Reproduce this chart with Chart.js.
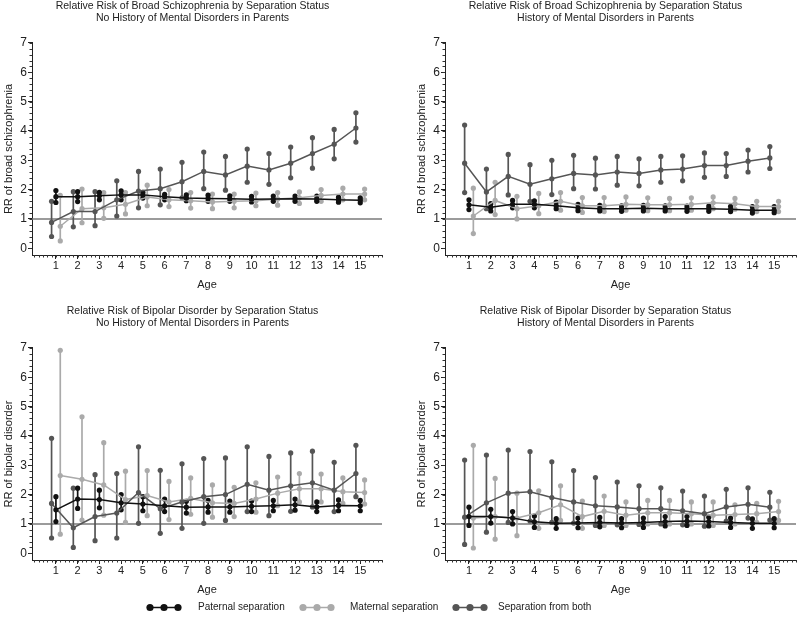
<!DOCTYPE html>
<html>
<head>
<meta charset="utf-8">
<script src="https://cdn.jsdelivr.net/npm/chart.js@4.4.1/dist/chart.umd.min.js"></script>
<style>
    body { margin: 0; background: #fff; width: 800px; height: 624px; position: relative; overflow: hidden;
           font-family: "Liberation Sans", Arial, sans-serif; }
    canvas { position: absolute; }
    .mk { position: absolute; top: 603px; }
    .lt { position: absolute; top: 601px; font-size: 10px; line-height: 12px; color: #222; white-space: nowrap; }
</style>
</head>
<body>
<canvas id="p1" width="386" height="300" style="left:0;top:0"></canvas>
<canvas id="p2" width="387" height="300" style="left:413px;top:0"></canvas>
<canvas id="p3" width="386" height="300" style="left:0;top:305px"></canvas>
<canvas id="p4" width="387" height="300" style="left:413px;top:305px"></canvas>

<svg class="mk" style="left:146px" width="36" height="9"><line x1="4" y1="4.5" x2="32" y2="4.5" stroke="#111" stroke-width="1.5"/><circle cx="4" cy="4.5" r="3.6" fill="#111"/><circle cx="18" cy="4.5" r="3.6" fill="#111"/><circle cx="32" cy="4.5" r="3.6" fill="#111"/></svg>
<div class="lt" style="left:198px">Paternal separation</div>
<svg class="mk" style="left:299px" width="36" height="9"><line x1="4" y1="4.5" x2="32" y2="4.5" stroke="#aaa" stroke-width="1.5"/><circle cx="4" cy="4.5" r="3.6" fill="#aaa"/><circle cx="18" cy="4.5" r="3.6" fill="#aaa"/><circle cx="32" cy="4.5" r="3.6" fill="#aaa"/></svg>
<div class="lt" style="left:350px">Maternal separation</div>
<svg class="mk" style="left:452px" width="36" height="9"><line x1="4" y1="4.5" x2="32" y2="4.5" stroke="#555" stroke-width="1.5"/><circle cx="4" cy="4.5" r="3.6" fill="#555"/><circle cx="18" cy="4.5" r="3.6" fill="#555"/><circle cx="32" cy="4.5" r="3.6" fill="#555"/></svg>
<div class="lt" style="left:498px">Separation from both</div>

<script>
// 축 눈금
const ages = [1, 2, 3, 4, 5, 6, 7, 8, 9, 10, 11, 12, 13, 14, 15];
const yTicks = [0, 1, 2, 3, 4, 5, 6, 7];

// 조현병, 부모 정신질환 이력 없음
const patScz0   = [1.76, 1.76, 1.79, 1.82, 1.82, 1.76, 1.71, 1.70, 1.69, 1.67, 1.68, 1.69, 1.68, 1.65, 1.64];
const patScz0Lo = [1.56, 1.59, 1.65, 1.65, 1.71, 1.65, 1.62, 1.60, 1.60, 1.58, 1.60, 1.60, 1.60, 1.57, 1.55];
const patScz0Hi = [1.97, 1.93, 1.91, 1.96, 1.91, 1.84, 1.82, 1.81, 1.79, 1.77, 1.78, 1.78, 1.78, 1.74, 1.72];
const matScz0   = [0.75, 1.35, 1.38, 1.50, 1.75, 1.65, 1.62, 1.58, 1.60, 1.62, 1.68, 1.72, 1.80, 1.85, 1.85];
const matScz0Lo = [0.25, 0.87, 1.02, 1.17, 1.45, 1.42, 1.37, 1.35, 1.38, 1.45, 1.47, 1.53, 1.60, 1.65, 1.65];
const matScz0Hi = [1.80, 2.02, 1.90, 1.90, 2.15, 2.00, 1.90, 1.85, 1.85, 1.88, 1.90, 1.92, 2.00, 2.05, 2.02];
const bothScz0   = [0.88, 1.25, 1.25, 1.65, 1.95, 2.03, 2.27, 2.62, 2.50, 2.80, 2.67, 2.90, 3.23, 3.55, 4.10];
const bothScz0Lo = [0.40, 0.73, 0.77, 1.10, 1.38, 1.48, 1.72, 2.03, 1.98, 2.25, 2.18, 2.40, 2.73, 3.05, 3.62];
const bothScz0Hi = [1.60, 1.93, 1.93, 2.30, 2.62, 2.70, 2.93, 3.28, 3.13, 3.38, 3.23, 3.45, 3.77, 4.05, 4.62];

// 조현병, 부모 정신질환 이력 있음
const patScz1   = [1.48, 1.40, 1.50, 1.50, 1.45, 1.38, 1.35, 1.35, 1.36, 1.35, 1.35, 1.35, 1.33, 1.30, 1.30];
const patScz1Lo = [1.32, 1.27, 1.38, 1.38, 1.35, 1.28, 1.27, 1.26, 1.27, 1.27, 1.26, 1.26, 1.25, 1.20, 1.21];
const patScz1Hi = [1.65, 1.52, 1.63, 1.62, 1.57, 1.50, 1.46, 1.45, 1.46, 1.45, 1.44, 1.44, 1.43, 1.42, 1.42];
const matScz1   = [1.10, 1.63, 1.35, 1.45, 1.60, 1.45, 1.45, 1.50, 1.48, 1.48, 1.50, 1.55, 1.52, 1.42, 1.42];
const matScz1Lo = [0.50, 1.15, 1.00, 1.18, 1.30, 1.22, 1.25, 1.30, 1.28, 1.28, 1.30, 1.35, 1.33, 1.25, 1.25];
const matScz1Hi = [2.05, 2.25, 1.77, 1.87, 1.90, 1.73, 1.73, 1.75, 1.72, 1.70, 1.72, 1.75, 1.70, 1.60, 1.60];
const bothScz1   = [2.90, 1.92, 2.45, 2.18, 2.37, 2.55, 2.50, 2.60, 2.55, 2.67, 2.70, 2.82, 2.82, 2.97, 3.08];
const bothScz1Lo = [1.90, 1.35, 1.82, 1.60, 1.83, 2.03, 2.02, 2.15, 2.13, 2.25, 2.30, 2.42, 2.45, 2.60, 2.72];
const bothScz1Hi = [4.20, 2.70, 3.20, 2.85, 3.00, 3.17, 3.07, 3.13, 3.05, 3.13, 3.15, 3.25, 3.23, 3.35, 3.47];

// 양극성 장애, 부모 정신질환 이력 없음
const patBip0   = [1.48, 1.85, 1.83, 1.72, 1.68, 1.62, 1.57, 1.58, 1.58, 1.60, 1.62, 1.65, 1.58, 1.63, 1.62];
const patBip0Lo = [1.08, 1.53, 1.55, 1.48, 1.45, 1.42, 1.37, 1.40, 1.40, 1.42, 1.45, 1.47, 1.42, 1.45, 1.45];
const patBip0Hi = [1.93, 2.22, 2.15, 2.00, 1.93, 1.85, 1.77, 1.80, 1.78, 1.78, 1.80, 1.85, 1.75, 1.82, 1.80];
const matBip0   = [2.65, 2.52, 2.33, 1.83, 1.97, 1.75, 1.87, 1.72, 1.70, 1.85, 2.05, 2.20, 2.20, 2.10, 2.07];
const matBip0Lo = [0.65, 1.13, 1.30, 1.05, 1.28, 1.15, 1.33, 1.23, 1.25, 1.40, 1.62, 1.75, 1.75, 1.70, 1.68];
const matBip0Hi = [6.92, 4.65, 3.77, 2.80, 2.82, 2.45, 2.57, 2.33, 2.25, 2.40, 2.60, 2.72, 2.70, 2.57, 2.50];
const bothBip0   = [1.70, 0.87, 1.25, 1.37, 2.07, 1.52, 1.75, 1.93, 2.00, 2.35, 2.15, 2.30, 2.40, 2.15, 2.72];
const bothBip0Lo = [0.52, 0.20, 0.43, 0.52, 1.02, 0.68, 0.85, 1.02, 1.12, 1.42, 1.28, 1.43, 1.58, 1.42, 1.93];
const bothBip0Hi = [3.92, 2.22, 2.68, 2.72, 3.63, 2.83, 3.05, 3.23, 3.25, 3.63, 3.30, 3.42, 3.48, 3.10, 3.68];

// 양극성 장애, 부모 정신질환 이력 있음
const patBip1   = [1.25, 1.25, 1.20, 1.07, 1.02, 1.03, 1.05, 1.03, 1.05, 1.08, 1.10, 1.08, 1.05, 1.02, 1.02];
const patBip1Lo = [0.95, 1.03, 1.00, 0.88, 0.85, 0.87, 0.90, 0.87, 0.88, 0.93, 0.95, 0.93, 0.88, 0.85, 0.87];
const patBip1Hi = [1.57, 1.50, 1.42, 1.27, 1.18, 1.20, 1.22, 1.18, 1.20, 1.25, 1.25, 1.23, 1.20, 1.17, 1.18];
const matBip1   = [1.20, 1.25, 1.20, 1.38, 1.65, 1.25, 1.43, 1.30, 1.38, 1.38, 1.35, 1.30, 1.32, 1.35, 1.42];
const matBip1Lo = [0.18, 0.48, 0.60, 0.85, 1.12, 0.85, 0.95, 0.95, 1.00, 1.00, 1.00, 0.95, 1.00, 1.05, 1.12];
const matBip1Hi = [3.68, 2.55, 2.05, 2.13, 2.30, 1.78, 1.95, 1.75, 1.80, 1.80, 1.75, 1.75, 1.65, 1.70, 1.77];
const bothBip1   = [1.23, 1.72, 2.05, 2.10, 1.90, 1.75, 1.62, 1.58, 1.52, 1.52, 1.45, 1.35, 1.58, 1.67, 1.57];
const bothBip1Lo = [0.30, 0.72, 1.05, 1.10, 1.05, 1.03, 0.95, 0.97, 0.98, 1.00, 0.97, 0.92, 1.10, 1.20, 1.13];
const bothBip1Hi = [3.18, 3.35, 3.52, 3.47, 3.12, 2.82, 2.58, 2.43, 2.30, 2.23, 2.12, 1.95, 2.18, 2.23, 2.08];

const FONT = '"Liberation Sans", Arial, sans-serif';

// 오차 막대 + RR=1 기준선
const errorBars = {
    id: 'errorBars',
    beforeDatasetsDraw(chart) {
        const { ctx, chartArea, scales: { y } } = chart;
        ctx.save();
        ctx.strokeStyle = '#7a7a7a';
        ctx.lineWidth = 1.5;
        const y1 = y.getPixelForValue(1);
        ctx.beginPath();
        ctx.moveTo(chartArea.left, y1);
        ctx.lineTo(chartArea.right, y1);
        ctx.stroke();

        for (let d = chart.data.datasets.length - 1; d >= 0; d--) {
            const ds = chart.data.datasets[d];
            const meta = chart.getDatasetMeta(d);
            ctx.strokeStyle = ds.borderColor;
            ctx.fillStyle = ds.borderColor;
            ctx.lineWidth = 1.7;
            meta.data.forEach((pt, i) => {
                const top = y.getPixelForValue(ds.hi[i]);
                const bot = y.getPixelForValue(ds.lo[i]);
                ctx.beginPath();
                ctx.moveTo(pt.x, top);
                ctx.lineTo(pt.x, bot);
                ctx.stroke();
                [top, bot].forEach(py => {
                    ctx.beginPath();
                    ctx.arc(pt.x, py, 2.6, 0, Math.PI * 2);
                    ctx.fill();
                });
            });
        }
        ctx.restore();
    }
};

// 보조 눈금
const minorTicks = {
    id: 'minorTicks',
    afterDraw(chart) {
        const { ctx, chartArea, scales: { x, y } } = chart;
        ctx.save();
        ctx.strokeStyle = '#333';
        ctx.lineWidth = 1;
        ctx.beginPath();
        for (let v = 0; v <= 16.001; v += 0.2) {
            const px = Math.round(x.getPixelForValue(v)) + 0.5;
            ctx.moveTo(px, chartArea.bottom);
            ctx.lineTo(px, chartArea.bottom + 2.5);
        }
        for (let v = 0; v <= 7.001; v += 0.2) {
            const py = Math.round(y.getPixelForValue(v)) + 0.5;
            ctx.moveTo(chartArea.left, py);
            ctx.lineTo(chartArea.left - 2.5, py);
        }
        ctx.stroke();
        ctx.restore();
    }
};

function series(label, color, offset, vals, lo, hi) {
    return {
        label: label,
        data: ages.map((a, i) => ({ x: a + offset, y: vals[i] })),
        lo: lo,
        hi: hi,
        borderColor: color,
        backgroundColor: color,
        borderWidth: 1.5,
        pointRadius: 2.6,
        pointBorderWidth: 0,
        tension: 0
    };
}

function makePanel(id, title, yTitle, pat, mat, both, padRight) {
    new Chart(document.getElementById(id), {
        type: 'line',
        data: {
            datasets: [
                series('Paternal separation', '#111', 0, ...pat),
                series('Separation from both', '#555', -0.2, ...both),
                series('Maternal separation', '#aaa', 0.2, ...mat)
            ]
        },
        options: {
            responsive: false,
            animation: false,
            layout: { padding: { top: 0, right: padRight, bottom: 8, left: 0 } },
            plugins: {
                legend: { display: false },
                tooltip: { enabled: false },
                title: {
                    display: true,
                    text: title,
                    color: '#222',
                    font: { family: FONT, size: 10.5, weight: 'normal', lineHeight: 1.15 },
                    padding: { top: 0, bottom: 18.8 }
                }
            },
            scales: {
                x: {
                    type: 'linear',
                    min: -0.1,
                    max: 16,
                    afterBuildTicks: s => { s.ticks = ages.map(v => ({ value: v })); },
                    afterFit: s => { s.height = 37; },
                    grid: { drawOnChartArea: false, drawTicks: true, tickLength: 4, color: '#222' },
                    border: { display: true, color: '#222', width: 1 },
                    ticks: { color: '#222', padding: 0, maxRotation: 0, font: { family: FONT, size: 11 } },
                    title: { display: true, text: 'Age', color: '#222', padding: 0, font: { family: FONT, size: 11 } }
                },
                y: {
                    type: 'linear',
                    min: -0.23,
                    max: 7,
                    afterBuildTicks: s => { s.ticks = yTicks.map(v => ({ value: v })); },
                    afterFit: s => { s.width = 32; },
                    grid: { drawOnChartArea: false, drawTicks: true, tickLength: 4, color: '#222' },
                    border: { display: true, color: '#222', width: 1 },
                    ticks: { color: '#222', padding: 1, font: { family: FONT, size: 12 } },
                    title: { display: true, text: yTitle, color: '#222', padding: { top: 2, bottom: 0 }, font: { family: FONT, size: 11 } }
                }
            }
        },
        plugins: [errorBars, minorTicks]
    });
}

makePanel('p1',
    ['Relative Risk of Broad Schizophrenia by Separation Status', 'No History of Mental Disorders in Parents'],
    'RR of broad schizophrenia',
    [patScz0, patScz0Lo, patScz0Hi], [matScz0, matScz0Lo, matScz0Hi], [bothScz0, bothScz0Lo, bothScz0Hi], 1);
makePanel('p2',
    ['Relative Risk of Broad Schizophrenia by Separation Status', 'History of Mental Disorders in Parents'],
    'RR of broad schizophrenia',
    [patScz1, patScz1Lo, patScz1Hi], [matScz1, matScz1Lo, matScz1Hi], [bothScz1, bothScz1Lo, bothScz1Hi], 2);
makePanel('p3',
    ['Relative Risk of Bipolar Disorder by Separation Status', 'No History of Mental Disorders in Parents'],
    'RR of bipolar disorder',
    [patBip0, patBip0Lo, patBip0Hi], [matBip0, matBip0Lo, matBip0Hi], [bothBip0, bothBip0Lo, bothBip0Hi], 1);
makePanel('p4',
    ['Relative Risk of Bipolar Disorder by Separation Status', 'History of Mental Disorders in Parents'],
    'RR of bipolar disorder',
    [patBip1, patBip1Lo, patBip1Hi], [matBip1, matBip1Lo, matBip1Hi], [bothBip1, bothBip1Lo, bothBip1Hi], 2);
</script>
</body>
</html>
